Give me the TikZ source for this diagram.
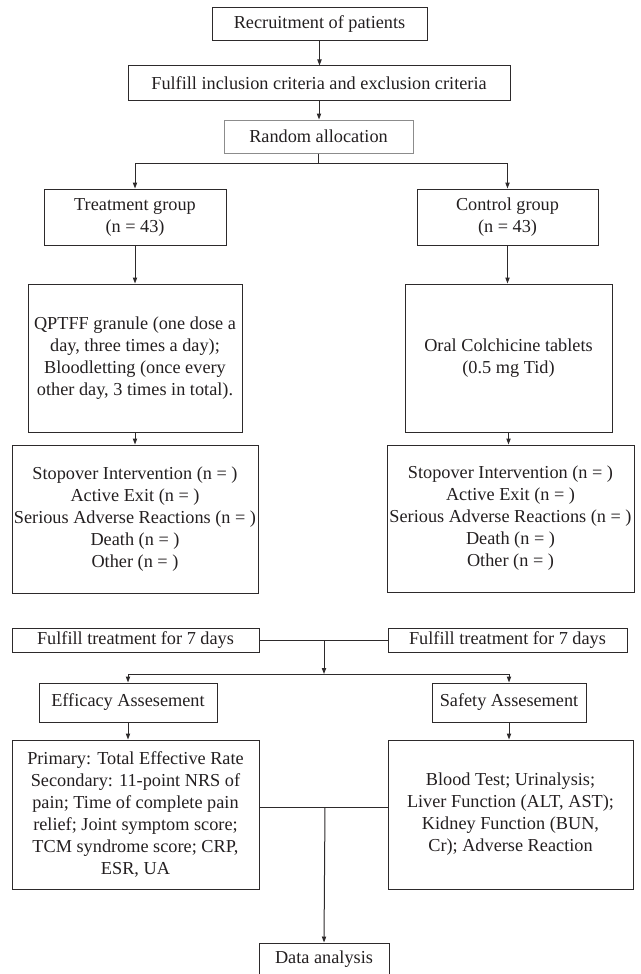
\documentclass[tikz,border=0pt]{standalone}
\usepackage{fontspec}
\setmainfont{Liberation Serif}
\usetikzlibrary{arrows.meta}

\tikzset{every picture/.style={line width=0.75pt}}
\tikzset{
  box/.style={draw={rgb, 255:red, 45; green, 42; blue, 43 }, text={rgb, 255:red, 35; green, 31; blue, 32 }, align=center, inner sep=0.75pt,
    font=\fontsize{13.7}{16.5}\selectfont},
  graybox/.style={box, draw={rgb, 255:red, 140; green, 140; blue, 140 }},
  arr/.style={-{Triangle[length=4.5pt,width=3.2pt]}, draw={rgb, 255:red, 45; green, 42; blue, 43 }},
  ln/.style={draw={rgb, 255:red, 45; green, 42; blue, 43 }}
}

\begin{document}
\begin{tikzpicture}[x=0.75pt,y=0.75pt,yscale=-1,xscale=1]
\useasboundingbox (0,0) rectangle (640,974);

% Text Node
\node [box, minimum width=161.25pt, minimum height=24.75pt] (recruit) at (319.5,24.5) {Recruitment of patients};
% Text Node
\node [box, minimum width=286.5pt, minimum height=25.5pt] (criteria) at (319,83) {Fulfill inclusion criteria and exclusion criteria};
% Text Node
\node [graybox, minimum width=141.75pt, minimum height=24.75pt] (random) at (318.5,136.5) {Random allocation};

% Text Node
\node [box, minimum width=136.5pt, minimum height=42pt] (treat) at (135,217) {Treatment group\\(n = 43)};
% Text Node
\node [box, minimum width=135.75pt, minimum height=42pt] (control) at (507.5,217) {Control group\\(n = 43)};

% Text Node
\node [box, minimum width=160.5pt, minimum height=111pt] (qptff) at (135,358) {QPTFF granule (one dose a\\day, three times a day);\\Bloodletting (once every\\other day, 3 times in total).};
% Text Node
\node [box, minimum width=155.25pt, minimum height=111pt] (oral) at (508.5,358) {Oral Colchicine tablets\\(0.5 mg Tid)};

% Text Node
\node [box, minimum width=184.5pt, minimum height=111pt] (stopl) at (135,519) {Stopover Intervention (n = )\\Active Exit (n = )\\Serious Adverse Reactions (n = )\\Death (n = )\\Other (n = )};
% Text Node
\node [box, minimum width=185.25pt, minimum height=110.25pt] (stopr) at (510.5,518.5) {Stopover Intervention (n = )\\Active Exit (n = )\\Serious Adverse Reactions (n = )\\Death (n = )\\Other (n = )};

% Text Node
\node [box, minimum width=185.25pt, minimum height=18pt] (fulfl) at (135.5,640) {Fulfill treatment for 7 days};
% Text Node
\node [box, minimum width=179.25pt, minimum height=18pt] (fulfr) at (507.5,640) {Fulfill treatment for 7 days};

% Text Node
\node [box, minimum width=133.5pt, minimum height=29.25pt] (efficacy) at (128,702.5) {Efficacy Assesement};
% Text Node
\node [box, minimum width=115.5pt, minimum height=29.25pt] (safety) at (509,702.5) {Safety Assesement};

% Text Node
\node [box, minimum width=185.25pt, minimum height=111.75pt] (primary) at (135.5,814.5) {Primary: Total Effective Rate\\Secondary: 11-point NRS of\\pain; Time of complete pain\\relief; Joint symptom score;\\TCM syndrome score; CRP,\\ESR, UA};
% Text Node
\node [box, minimum width=183.75pt, minimum height=111.75pt] (tests) at (510.5,814.5) {Blood Test; Urinalysis;\\Liver Function (ALT, AST);\\Kidney Function (BUN,\\Cr); Adverse Reaction};

% Text Node
\node [box, minimum width=97.5pt, minimum height=24.75pt] (data) at (324,959.5) {Data analysis};

% junctions
\coordinate (split1) at (318.5,163);
\coordinate (join1) at (324,640);
\coordinate (split2) at (324,674);
\coordinate (join2) at (325,807);

%Straight Lines
\draw [arr] (recruit) -- (recruit.south |- criteria.north);
\draw [arr] (criteria) -- (criteria.south |- random.north);
\draw [ln] (random) -- (split1);
\draw [arr] (split1) -| (treat.north);
\draw [arr] (split1) -| (control.north);
\draw [arr] (treat) -- (qptff);
\draw [arr] (control.south) -- (control.south |- oral.north);
\draw [arr] (qptff) -- (stopl);
\draw [arr] (oral.south) -- (oral.south |- stopr.north);

%Straight Lines
\draw [ln] (fulfl) -- (fulfr);
\draw [arr] (join1) -- (split2);
\draw [arr] (split2) -| (efficacy.north);
\draw [arr] (split2) -| (safety.north);
\draw [arr] (efficacy.south) -- (efficacy.south |- primary.north);
\draw [arr] (safety.south) -- (safety.south |- tests.north);
\draw [ln] (join2 -| primary.east) -- (join2 -| tests.west);
\draw [arr] (join2) -- (data.north);

\end{tikzpicture}
\end{document}
